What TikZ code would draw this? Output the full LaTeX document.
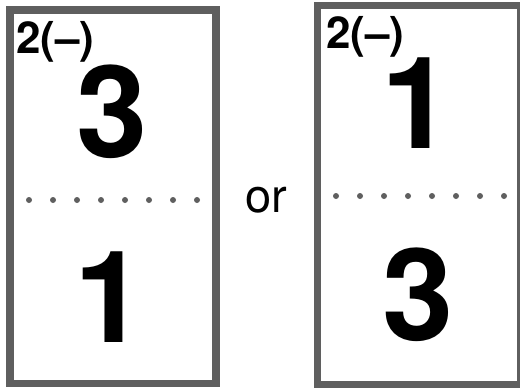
\documentclass[tikz,border=0pt]{standalone}
\usepackage{fontspec}
\setmainfont{TeX Gyre Heros}
\definecolor{boxgray}{HTML}{5F5F5F}
\tikzset{
  card/.style={draw=boxgray, line width=7.5bp, fill=white},
  bigdigit/.style={inner sep=0pt, anchor=base, font=\fontsize{128bp}{128bp}\selectfont\bfseries},
  tag/.style={inner sep=0pt, anchor=base west, font=\fontsize{44bp}{44bp}\selectfont\bfseries},
  orword/.style={inner sep=0pt, anchor=base, font=\fontsize{47bp}{47bp}\selectfont},
  dotmark/.style={circle, fill=boxgray, inner sep=0pt, minimum size=6bp}
}
\begin{document}
\begin{tikzpicture}[x=1bp, y=-1bp]
\useasboundingbox (0,0) rectangle (520,388);
% left card
\draw[card] (10,10) rectangle (216,383.5);
% right card
\draw[card] (317.5,5.5) rectangle (521,384.5);
% labels
\node[tag] (tl) at (16,53) {2(–)};
\node[tag] (tr) at (326,48) {2(–)};
\node[bigdigit] (l3) at (112.5,157) {3};
\node[bigdigit] (l1) at (110,342) {1};
\node[bigdigit] (r1) at (417,148) {1};
\node[bigdigit] (r3) at (418,340) {3};
\node[orword] (or) at (266,212) {or};
% dots
\foreach \i in {0,...,7} {
  \node[dotmark] (ld\i) at ({29+24*\i},200) {};
  \node[dotmark] (rd\i) at ({336+24*\i},196) {};
}
\end{tikzpicture}
\end{document}
